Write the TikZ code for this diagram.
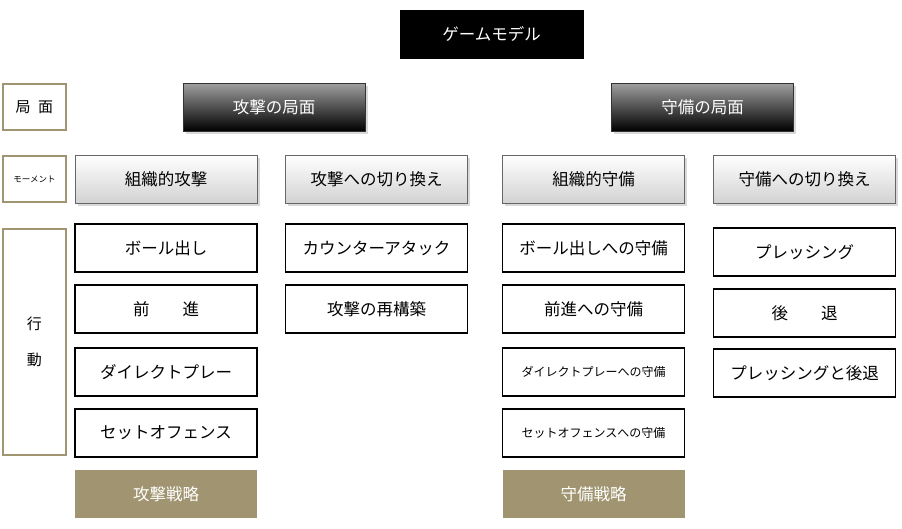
\documentclass[tikz,border=0pt]{standalone}
\usepackage{fontspec}
\setmainfont{Noto Sans CJK JP}
\usetikzlibrary{shadows}
\definecolor{olive}{HTML}{A09570}
\tikzstyle{box} = [draw,minimum width=182pt,minimum height=48pt,inner sep=0pt,font=\fontsize{16.5}{19}\selectfont]
\tikzstyle{act} = [box,line width=1.6pt,fill=white]
\tikzstyle{phase} = [box,draw=black!80,top color=gray!75,bottom color=black,text=white,drop shadow={opacity=0.3}]
\tikzstyle{moment} = [box,draw=black!60,top color=white,bottom color=gray!35,drop shadow={opacity=0.3}]
\tikzstyle{strat} = [box,draw=none,fill=olive,text=white]
\tikzstyle{label} = [draw=olive,line width=1.6pt,minimum width=63pt,inner sep=0pt,font=\fontsize{15}{18}\selectfont]

\begin{document}
\begin{tikzpicture}[x=1pt,y=-1pt]
        \useasboundingbox (0,0) rectangle (902,528);
        \node[box, fill=black, text=white, minimum width=183pt] at (491.5,34) (model) {ゲームモデル};

        \node[label, minimum height=46pt] at (34.5,107) (kyokumen) {局\hspace{0.5em}面};
        \node[label, minimum height=46pt, font=\fontsize{8.5}{10}\selectfont] at (34.5,179) (moment) {モーメント};
        \node[label, minimum height=226pt, align=center] at (34.5,342) (koudou) {行\\[1.2em]動};

        \node[phase] at (274,107) (atk) {攻撃の局面};
        \node[phase] at (702.5,107) (def) {守備の局面};

        \node[moment] at (166,179) (m1) {組織的攻撃};
        \node[moment] at (376.5,179) (m2) {攻撃への切り換え};
        \node[moment] at (593.5,179) (m3) {組織的守備};
        \node[moment] at (804.5,179) (m4) {守備への切り換え};

        \node[act] at (166,248) (a1) {ボール出し};
        \node[act] at (166,309) (a2) {前\hspace{2em}進};
        \node[act] at (166,372) (a3) {ダイレクトプレー};
        \node[act] at (166,433) (a4) {セットオフェンス};

        \node[act] at (376.5,248) (b1) {カウンターアタック};
        \node[act] at (376.5,309) (b2) {攻撃の再構築};

        \node[act] at (593.5,248) (c1) {ボール出しへの守備};
        \node[act] at (593.5,309) (c2) {前進への守備};
        \node[act, font=\fontsize{12}{14}\selectfont] at (593.5,372) (c3) {ダイレクトプレーへの守備};
        \node[act, font=\fontsize{12}{14}\selectfont] at (593.5,433) (c4) {セットオフェンスへの守備};

        \node[act] at (804.5,252) (d1) {プレッシング};
        \node[act] at (804.5,313) (d2) {後\hspace{2em}退};
        \node[act] at (804.5,373) (d3) {プレッシングと後退};

        \node[strat] at (166,494) (s1) {攻撃戦略};
        \node[strat] at (593.5,494) (s2) {守備戦略};
    \end{tikzpicture}
\end{document}
